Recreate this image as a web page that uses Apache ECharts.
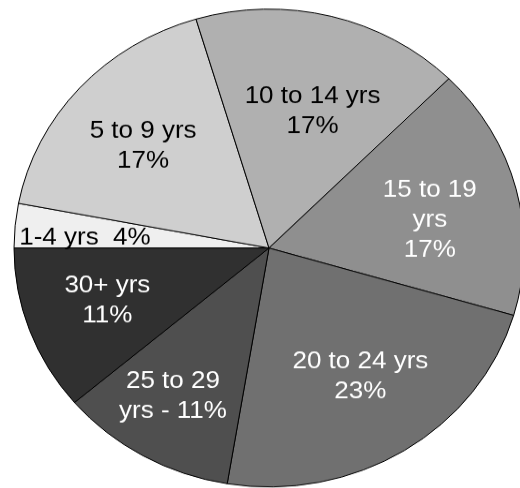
<!DOCTYPE html>
<html>
<head>
<meta charset="utf-8">
<script src="https://cdn.jsdelivr.net/npm/echarts@6/dist/echarts.min.js"></script>
<style>
  html, body { margin: 0; padding: 0; background: #fff; overflow: hidden; }
  #wrap { width: 520px; height: 488px; overflow: hidden; }
  /* the source picture is squashed vertically, so the whole chart is too */
  #pie_chart { width: 520px; height: 521px; transform: scaleY(0.937); transform-origin: 0 0; }
</style>
</head>
<body>
<div id="wrap"><div id="pie_chart"></div></div>
<script>
// age groups, clockwise from 9 o'clock
const categories = ['1-4 yrs', '5 to 9 yrs', '10 to 14 yrs', '15 to 19 yrs', '20 to 24 yrs', '25 to 29 yrs', '30+ yrs'];
// slice sizes
const shares = [3, 17.4, 17.1, 17.1, 23.1, 11.2, 11.2];
// printed labels
const labelTexts = ['1-4 yrs  4%', '5 to 9 yrs\n17%', '10 to 14 yrs\n17%', '15 to 19\nyrs\n17%', '20 to 24 yrs\n23%', '25 to 29\nyrs - 11%', '30+ yrs\n11%'];

const sliceColors = ['#efefef', '#cfcfcf', '#b0b0b0', '#8f8f8f', '#707070', '#4f4f4f', '#303030'];
const textColors = ['#000', '#000', '#000', '#fff', '#fff', '#fff', '#fff'];
// how far out (share of radius) each label sits, plus small hand nudges (screen px)
const labelRadius = [0.72, 0.66, 0.59, 0.64, 0.63, 0.73, 0.68];
const labelNudge = [[3, 6], [2, 6], [6, 3], [-1, 11], [4, -2], [-2, -7], [5, -5]];

const squash = 0.937;
const cx = 269, cy = 264.7, R = 255;

let pieChart = echarts.init(document.getElementById('pie_chart'));

let pieData = categories.map(function (name, i) {
    return {
        name: name,
        value: shares[i],
        itemStyle: { color: sliceColors[i] },
        label: { color: textColors[i] }
    };
});

let option = {
    animation: false,
    series: [
        {
            type: 'pie',
            center: [cx, cy],
            radius: [0, R],
            startAngle: 180,
            clockwise: true,
            avoidLabelOverlap: false,
            itemStyle: {
                borderColor: '#000',
                borderWidth: 1
            },
            label: {
                show: true,
                position: 'inside',
                fontFamily: '"Liberation Sans", Arial, sans-serif',
                fontSize: 26,
                lineHeight: 32,
                align: 'center',
                formatter: function (p) {
                    return labelTexts[p.dataIndex];
                }
            },
            labelLine: { show: false },
            emphasis: { disabled: true },
            // push inside labels out from half radius to where the picture has them
            labelLayout: function (p) {
                let i = p.dataIndex;
                let r = p.labelRect;
                let lx = r.x + r.width / 2, ly = r.y + r.height / 2;
                let k = labelRadius[i] / 0.5 - 1;
                return {
                    dx: (lx - cx) * k + labelNudge[i][0],
                    dy: (ly - cy) * k + labelNudge[i][1] / squash
                };
            },
            data: pieData
        }
    ]
};
pieChart.setOption(option);
</script>
</body>
</html>
